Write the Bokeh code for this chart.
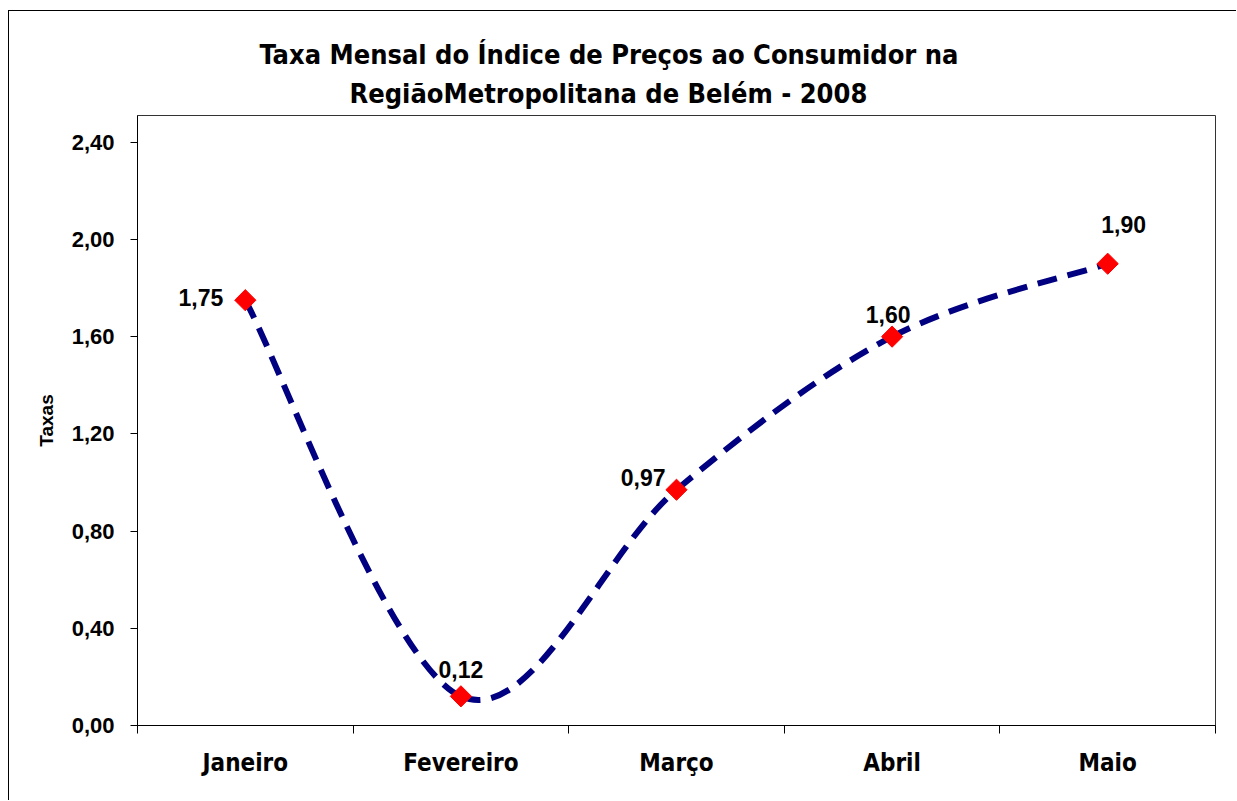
import numpy as np
from bokeh.plotting import figure
from bokeh.models import (ColumnDataSource, FixedTicker, LabelSet, Title, Range1d)
from bokeh.core.properties import value
from bokeh.embed import file_html
from bokeh.resources import INLINE

# ---- data ----
months = ["Janeiro", "Fevereiro", "Março", "Abril", "Maio"]
rates = [1.75, 0.12, 0.97, 1.60, 1.90]
y_ticks = [0.0, 0.4, 0.8, 1.2, 1.6, 2.0, 2.4]
y_tick_labels = ["0,00", "0,40", "0,80", "1,20", "1,60", "2,00", "2,40"]
title_lines = ["Taxa Mensal do Índice de Preços ao Consumidor na",
               "RegiãoMetropolitana de Belém - 2008"]
y_label = "Taxas"

# label offsets (style, pixels)
label_dx = [-22, 0, -11, -4, 16]
label_dy = [3, 27, 12, 22, 39]
label_align = ["right", "center", "right", "center", "center"]

NARROW = "DejaVu Sans Condensed"
SANS = "Liberation Sans"

xs = list(range(len(months)))
Y_MAX = 2.51

p = figure(width=1228, height=790, output_backend="svg", toolbar_location=None,
           x_range=Range1d(-0.5, len(months) - 0.5), y_range=Range1d(0, Y_MAX),
           min_border_left=128, min_border_right=22, min_border_top=104,
           min_border_bottom=76)
p.styles = {"border-left": "1px solid black", "border-top": "1px solid black",
            "margin-left": "8px", "margin-top": "10px"}
p.grid.visible = False
p.outline_line_color = "#333333"
p.outline_line_width = 1
p.background_fill_color = "white"
p.border_fill_color = "white"

# title lines (second line added first -> nearest to the plot area)
title_offsets = [122, 212]      # left-aligned offsets so that both lines centre near x=607
title_standoffs = [0, 13]
for txt, off, so in reversed(list(zip(title_lines, title_offsets, title_standoffs))):
    p.add_layout(Title(text=txt, align="left", offset=off, standoff=so,
                       text_font=NARROW, text_font_size="27px", text_font_style="bold",
                       text_color="black"), "above")

# smooth line through the points (Bezier segments, Catmull-Rom style control points)
P = np.column_stack([xs, rates]).astype(float)
n = len(P)
ext = np.vstack([P[0], P, P[-1]])
seg = {"x0": [], "y0": [], "x1": [], "y1": [], "cx0": [], "cy0": [], "cx1": [], "cy1": []}
for i in range(n - 1):
    p0, p1, p2, p3 = ext[i], ext[i + 1], ext[i + 2], ext[i + 3]
    c0 = p1 + (p2 - p0) / 6.0
    c1 = p2 - (p3 - p1) / 6.0
    seg["x0"].append(p1[0]); seg["y0"].append(p1[1])
    seg["x1"].append(p2[0]); seg["y1"].append(p2[1])
    seg["cx0"].append(c0[0]); seg["cy0"].append(c0[1])
    seg["cx1"].append(c1[0]); seg["cy1"].append(c1[1])
p.bezier(x0="x0", y0="y0", x1="x1", y1="y1", cx0="cx0", cy0="cy0", cx1="cx1", cy1="cy1",
         source=ColumnDataSource(seg), line_color="#000080", line_width=6,
         line_dash="20 11")

src = ColumnDataSource(dict(
    x=xs, y=rates,
    text=[f"{v:.2f}".replace(".", ",") for v in rates],
    dx=label_dx, dy=label_dy, align=label_align))
p.scatter("x", "y", source=src, marker="square", size=15, angle=np.pi / 4,
          fill_color="red", line_color="red")
p.add_layout(LabelSet(x="x", y="y", text="text", source=src, x_offset="dx", y_offset="dy",
                      text_align="align", text_baseline="middle", text_font=value(SANS),
                      text_font_size=value("23px"), text_font_style=value("bold"),
                      text_color="black"))

# x axis
xa = p.xaxis[0]
xa.ticker = FixedTicker(ticks=xs, minor_ticks=[i - 0.5 for i in range(n + 1)])
xa.major_label_overrides = {i: m for i, m in enumerate(months)}
xa.major_tick_line_alpha = 0
xa.minor_tick_line_color = "black"
xa.minor_tick_out = 8
xa.minor_tick_in = 0
xa.major_label_standoff = 15
xa.major_label_text_font = NARROW
xa.major_label_text_font_size = "24px"
xa.major_label_text_font_style = "bold"
xa.major_label_text_color = "black"
xa.axis_line_color = "black"

# y axis
ya = p.yaxis[0]
ya.ticker = FixedTicker(ticks=y_ticks, minor_ticks=[])
ya.major_label_overrides = {t: l for t, l in zip(y_ticks, y_tick_labels)}
ya.major_tick_out = 7
ya.major_tick_in = 0
ya.major_tick_line_color = "black"
ya.major_label_standoff = 16
ya.major_label_text_font = SANS
ya.major_label_text_font_size = "22px"
ya.major_label_text_font_style = "bold"
ya.major_label_text_color = "black"
ya.axis_line_color = "black"
ya.axis_label = y_label
ya.axis_label_text_font = SANS
ya.axis_label_text_font_size = "19px"
ya.axis_label_text_font_style = "bold"
ya.axis_label_text_color = "black"
ya.axis_label_standoff = 12

open("out.html", "w").write(file_html(p, INLINE))
